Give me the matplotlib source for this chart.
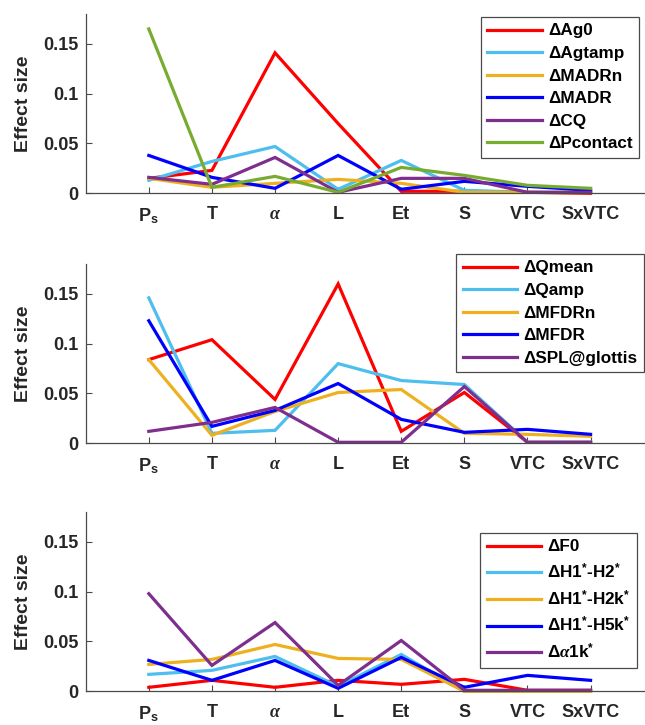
import matplotlib
matplotlib.use('Agg')
import matplotlib.pyplot as plt
import numpy as np

plt.rcParams['font.family'] = ['Liberation Sans', 'DejaVu Sans']
plt.rcParams['font.weight'] = 'bold'
plt.rcParams['mathtext.fontset'] = 'custom'
plt.rcParams['mathtext.rm'] = 'Liberation Sans:bold'
plt.rcParams['mathtext.bf'] = 'Liberation Sans:bold'
plt.rcParams['mathtext.it'] = 'Liberation Serif:italic'

# ---------------- data ----------------
categories = ['P$_\\mathrm{s}$', 'T', '$\\alpha$', 'L', 'Et', 'S', 'VTC', 'SxVTC']
yticks = [0, 0.05, 0.1, 0.15]
ytick_labels = ['0', '0.05', '0.1', '0.15']

# panel 1
p1_labels = ['ΔAg0', 'ΔAgtamp', 'ΔMADRn', 'ΔMADR', 'ΔCQ', 'ΔPcontact']
ag0      = [0.015, 0.023, 0.141, 0.070, 0.002, 0.002, 0.001, 0.000]
agtamp   = [0.013, 0.032, 0.047, 0.004, 0.033, 0.003, 0.001, 0.001]
madrn    = [0.015, 0.006, 0.010, 0.014, 0.010, 0.001, 0.001, 0.001]
madr     = [0.038, 0.016, 0.005, 0.038, 0.004, 0.012, 0.007, 0.003]
cq       = [0.016, 0.009, 0.036, 0.001, 0.015, 0.015, 0.001, 0.001]
pcontact = [0.165, 0.006, 0.017, 0.001, 0.026, 0.018, 0.008, 0.005]

# panel 2
p2_labels = ['ΔQmean', 'ΔQamp', 'ΔMFDRn', 'ΔMFDR', 'ΔSPL@glottis']
qmean  = [0.084, 0.104, 0.044, 0.160, 0.012, 0.051, 0.001, 0.001]
qamp   = [0.146, 0.010, 0.013, 0.080, 0.063, 0.059, 0.001, 0.001]
mfdrn  = [0.084, 0.008, 0.032, 0.051, 0.054, 0.010, 0.009, 0.007]
mfdr   = [0.123, 0.017, 0.033, 0.060, 0.024, 0.011, 0.014, 0.009]
splg   = [0.012, 0.021, 0.036, 0.001, 0.001, 0.057, 0.001, 0.001]

# panel 3
p3_labels = ['ΔF0', 'ΔH1$^{*}$-H2$^{*}$', 'ΔH1$^{*}$-H2k$^{*}$',
             'ΔH1$^{*}$-H5k$^{*}$', 'Δ$\\alpha$1k$^{*}$']
f0      = [0.004, 0.011, 0.004, 0.011, 0.007, 0.012, 0.001, 0.001]
h1h2    = [0.017, 0.021, 0.035, 0.005, 0.037, 0.000, 0.000, 0.000]
h1h2k   = [0.027, 0.032, 0.047, 0.033, 0.032, 0.000, 0.000, 0.000]
h1h5k   = [0.031, 0.011, 0.031, 0.003, 0.034, 0.004, 0.016, 0.011]
a1k     = [0.098, 0.026, 0.069, 0.006, 0.051, 0.001, 0.001, 0.001]

colors6 = ['#FF0000', '#4DBEEE', '#EDB120', '#0000FF', '#7E2F8E', '#77AC30']

panels = [
    (p1_labels, [ag0, agtamp, madrn, madr, cq, pcontact]),
    (p2_labels, [qmean, qamp, mfdrn, mfdr, splg]),
    (p3_labels, [f0, h1h2, h1h2k, h1h5k, a1k]),
]

# ---------------- layout ----------------
W, H = 645, 725
fig = plt.figure(figsize=(W / 100, H / 100), dpi=100)
ax_left = 85.7 / W
ax_width = 568 / W
ax_h = 179.3 / H
bottoms_px = [193.3, 443.3, 691.3]
legend_anchor_px = [(639, 17), (644, 254), (637, 533)]

axis_color = '#4a4a4a'
text_color = '#262626'
x = np.arange(1, len(categories) + 1)

for (labels, series), bpx, (lx, ly) in zip(panels, bottoms_px, legend_anchor_px):
    ax = fig.add_axes([ax_left, (H - bpx) / H, ax_width, ax_h])
    for s, lab, c in zip(series, labels, colors6):
        ax.plot(x, s, color=c, lw=2.3, label=lab, clip_on=False,
                solid_joinstyle='miter')
    ax.set_xlim(0, 9)
    ax.set_ylim(0, 0.18)
    ax.set_xticks(x)
    ax.set_xticklabels(categories, fontsize=13, fontweight='bold', color=text_color)
    ax.set_yticks(yticks)
    ax.set_yticklabels(ytick_labels, fontsize=13, fontweight='bold', color=text_color)
    ax.tick_params(direction='in', length=4.3, width=0.8, color=axis_color)
    ax.tick_params(axis='x', pad=9.5)
    ax.tick_params(axis='y', pad=5)
    for sp in ['top', 'right']:
        ax.spines[sp].set_visible(False)
    for sp in ['left', 'bottom']:
        ax.spines[sp].set_color(axis_color)
        ax.spines[sp].set_linewidth(0.9)
    ax.set_ylabel('Effect size', fontsize=14, fontweight='bold', color=text_color)
    ax.yaxis.set_label_coords(-0.095, 0.5)
    leg = ax.legend(loc='upper right', bbox_to_anchor=(lx / W, 1 - ly / H),
                    bbox_transform=fig.transFigure, borderaxespad=0,
                    fancybox=False, edgecolor=axis_color, framealpha=1,
                    prop={'size': 12.3, 'weight': 'bold'},
                    handlelength=3.2, handletextpad=0.35, labelspacing=0.44,
                    borderpad=0.38)
    leg.get_frame().set_linewidth(0.9)

fig.savefig('out.png', dpi=100)
